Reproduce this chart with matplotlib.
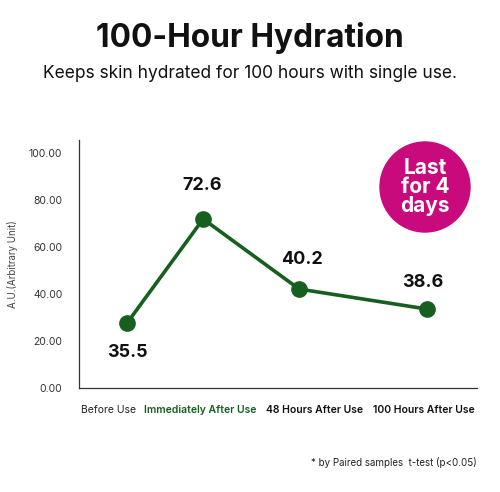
import matplotlib
matplotlib.use("Agg")
import matplotlib.pyplot as plt
from matplotlib.patches import Ellipse

plt.rcParams['font.family'] = ['Inter', 'DejaVu Sans']

# data
categories = ["Before Use", "Immediately After Use", "48 Hours After Use", "100 Hours After Use"]
x_points = [1.21, 3.12, 5.53, 8.74]
y_points = [27.7, 71.9, 42.1, 33.6]
value_labels = ["35.5", "72.6", "40.2", "38.6"]
label_x = [1.21, 3.09, 5.6, 8.64]
label_y = [15.0, 86.0, 54.5, 45.0]
cat_x = [0.74, 3.05, 5.92, 8.66]
y_ticks = [0, 20, 40, 60, 80, 100]

green = "#165f1f"
magenta = "#c90a7c"

fig = plt.figure(figsize=(5.0, 4.92), dpi=100)
ax = fig.add_axes([0.158, 0.2114, 0.796, 0.504])
ax.set_xlim(0, 10)
ax.set_ylim(0, 105.5)

ax.plot(x_points, y_points, color=green, lw=2.6, marker="o", ms=11,
        markerfacecolor=green, markeredgecolor=green, zorder=3)

for x, y, t in zip(label_x, label_y, value_labels):
    ax.text(x, y, t, ha="center", va="center", fontsize=13, fontweight="bold", color="#111111")

ax.set_yticks(y_ticks)
ax.set_yticklabels([f"{v:.2f}" for v in y_ticks], fontsize=7.5, color="#333333")
ax.tick_params(axis="y", length=0, pad=12)
ax.set_xticks([])
for s in ["top", "right"]:
    ax.spines[s].set_visible(False)
for s in ["left", "bottom"]:
    ax.spines[s].set_color("#333333")
    ax.spines[s].set_linewidth(0.9)

ax.set_ylabel("A.U.(Arbitrary Unit)", fontsize=7, color="#444444", labelpad=8)

# category labels under the axis
for i, (x, c) in enumerate(zip(cat_x, categories)):
    if i == 0:
        ax.text(x, -9.5, c, ha="center", va="center", fontsize=7.5, color="#222222")
    elif i == 1:
        ax.text(x, -9.5, c, ha="center", va="center", fontsize=7.5, color=green, fontweight="semibold")
    else:
        ax.text(x, -9.5, c, ha="center", va="center", fontsize=7.5, color="#111111", fontweight="semibold")

# badge
fig.patches.append(Ellipse((425 / 500, 1 - 187 / 492), 90 / 500, 90 / 492,
                           transform=fig.transFigure, color=magenta, zorder=5))
fig.text(425 / 500, 1 - 187 / 492, "Last\nfor 4\ndays", ha="center", va="center",
         fontsize=15, fontweight="bold", color="white", linespacing=0.95, zorder=6)

fig.text(0.5, 1 - 38 / 492, "100-Hour Hydration", ha="center", va="center",
         fontsize=22.8, fontweight="bold", color="#111111")
fig.text(0.5, 1 - 73 / 492, "Keeps skin hydrated for 100 hours with single use.",
         ha="center", va="center", fontsize=12.5, color="#111111")
fig.text(477 / 500, 1 - 463 / 492, "* by Paired samples  t-test (p<0.05)",
         ha="right", va="center", fontsize=7, color="#222222")

fig.savefig("out.png", dpi=100, facecolor="white")
